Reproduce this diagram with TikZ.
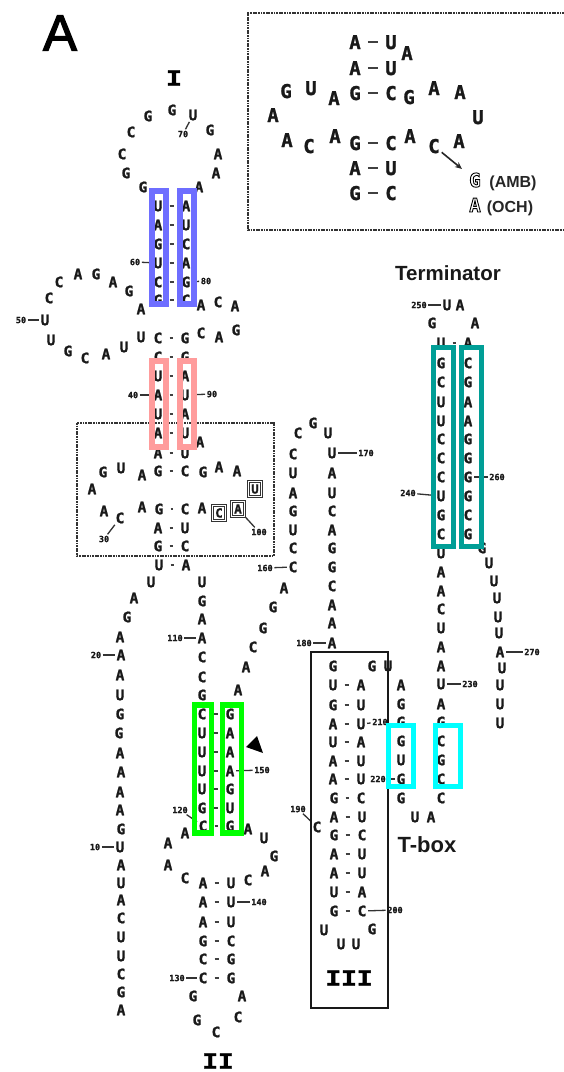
\documentclass[tikz,border=0pt]{standalone}
\usepackage{fontspec}
\setmainfont{Liberation Sans}
\newfontfamily\ltrfont{DejaVu Sans Mono}[BoldFeatures={FakeBold=1.2}]
\newfontfamily\outlinefont{DejaVu Sans Mono}
\newfontfamily\romfont{Liberation Mono}[BoldFeatures={FakeBold=1.2}]
\usetikzlibrary{arrows.meta}
\newcounter{nn}
\tikzset{
  nt/.style={inner sep=1pt,font=\ltrfont\bfseries\fontsize{14.5}{14.5}\selectfont,text height=10.5pt,text depth=0pt,text=black!90},
  ntbig/.style={inner sep=1pt,font=\ltrfont\bfseries\fontsize{19}{19}\selectfont,text height=14pt,text depth=0pt,text=black!90},
  ntout/.style={inner sep=1pt,font=\outlinefont\bfseries\fontsize{19}{19}\selectfont,text height=14pt,text depth=0pt},
  ntbox/.style={nt,draw=black!80,double=white,double distance=1.2pt,line width=1.1pt,minimum width=12.5pt,minimum height=14.5pt,inner sep=0pt,font=\ltrfont\bfseries\fontsize{12.5}{12.5}\selectfont,text height=9pt},
  numlab/.style={inner sep=1pt,font=\ltrfont\bfseries\fontsize{8.5}{8.5}\selectfont,text height=6.2pt,text depth=0pt,text=black!90},
  pairline/.style={line width=1.3pt,black!75,shorten >=6pt,shorten <=6pt},
  tick/.style={line width=1.3pt,black!80,shorten >=0.5pt,shorten <=0.5pt},
  band/.style={line width=5.5pt,line cap=butt,line join=miter},
  bandblue/.style={band,draw={rgb,255:red,110;green,110;blue,255}},
  bandpink/.style={band,draw={rgb,255:red,255;green,156;blue,156}},
  bandgreen/.style={band,draw={rgb,255:red,0;green,255;blue,0}},
  bandteal/.style={band,draw={rgb,255:red,0;green,158;blue,150}},
  bandcyan/.style={band,draw={rgb,255:red,0;green,255;blue,255}},
  dotframe/.style={line width=1.9pt,black!80,dash pattern=on 1.8pt off 0.8pt},
  roman/.style={inner sep=0pt,font=\romfont\bfseries\fontsize{23}{23}\selectfont},
  headline/.style={inner sep=0pt,font=\bfseries\fontsize{20.5}{20.5}\selectfont,text=black!90},
  smallhead/.style={inner sep=0pt,font=\bfseries\fontsize{16}{16}\selectfont,text=black!85},
}
% letter node: numbered automatically
\newcommand\ntx[4][nt]{\stepcounter{nn}\node[#1] (n\arabic{nn}) at (#2,#3) {#4};}
% base pair: y, x left, x right, left letter, right letter
\newcommand\bpair[6][nt]{%
  \ntx[#1]{#3}{#2}{#5}\edef\lastL{n\arabic{nn}}%
  \ntx[#1]{#4}{#2}{#6}\edef\lastR{n\arabic{nn}}%
  \draw[pairline] (\lastL) -- (\lastR);}
% number label joined to the letter node made last
\newcommand\numl[3]{\node[numlab] (lab\arabic{nn}) at (#1,#2) {#3};\draw[tick] (lab\arabic{nn}) -- (n\arabic{nn});}
\newcommand\hollow[1]{\special{pdf:code 1 Tr 0.9 w}#1\special{pdf:code 0 Tr}}
\newcommand\heavy[1]{\special{pdf:code 2 Tr 1.2 w}#1\special{pdf:code 0 Tr}}
\newcommand\wideI[1]{\scalebox{1.14}[1]{#1}}
\begin{document}
\begin{tikzpicture}[x=1pt,y=-1pt]
\useasboundingbox (0,0) rectangle (564,1072);
\fill[white] (0,0) rectangle (564,1072);
\node[inner sep=0pt,font=\fontsize{51}{51}\selectfont] (title) at (60,33) {\heavy{A}};
% ---- inset
\draw[dotframe] (564,13) -- (248,13) -- (248,230) -- (564,230);
\bpair[ntbig]{42}{355}{391}{A}{U}
\ntx[ntbig]{407}{53}{A}
\bpair[ntbig]{68}{355}{391}{A}{U}
\bpair[ntbig]{93}{355}{391}{G}{C}
\ntx[ntbig]{286}{91}{G}
\ntx[ntbig]{311}{88}{U}
\ntx[ntbig]{334}{98}{A}
\ntx[ntbig]{409}{97}{G}
\ntx[ntbig]{434}{88}{A}
\ntx[ntbig]{460}{92}{A}
\ntx[ntbig]{478}{117}{U}
\ntx[ntbig]{273}{115}{A}
\ntx[ntbig]{287}{140}{A}
\ntx[ntbig]{309}{146}{C}
\ntx[ntbig]{335}{136}{A}
\bpair[ntbig]{143}{355}{391}{G}{C}
\ntx[ntbig]{410}{136}{A}
\ntx[ntbig]{459}{141}{A}
\bpair[ntbig]{168}{355}{391}{A}{U}
\bpair[ntbig]{193}{355}{391}{G}{C}
\node[ntout] (ambG) at (475,180) {\hollow{G}};
\node[ntout] (ochA) at (475,205) {\hollow{A}};
\node[smallhead] (amb) at (513,183) {(AMB)};
\node[smallhead] (och) at (510,208) {(OCH)};
\node[ntbig] (insetC) at (434,146) {C};
\coordinate (arrowend) at (462,169);
\draw[line width=1.6pt,black!85,-{Stealth[length=7pt,width=6pt]},shorten <=1pt] (insetC) -- (arrowend);
% ---- stem I
\node[roman] (romI) at (174,78) {\wideI{I}};
\ntx{172}{110}{G}
\ntx{193}{115}{U}\numl{183}{134}{70}
\ntx{210}{130}{G}
\ntx{218}{154}{A}
\ntx{216}{173}{A}
\ntx{199}{187}{A}
\ntx{143}{187}{G}
\ntx{126}{173}{G}
\ntx{122}{154}{C}
\ntx{131}{132}{C}
\ntx{148}{116}{G}
\bpair{206}{158}{186}{U}{A}
\bpair{225}{158}{186}{A}{U}
\bpair{244}{158}{186}{G}{C}
\bpair{263}{158}{186}{U}{A}
\node[numlab] (lab60) at (135,262) {60};
\draw[tick] (lab60) -- (\lastL);
\node[numlab] (lab80) at (206,281) {80};
\bpair{282}{158}{186}{C}{G}
\draw[tick] (lab80) -- (\lastR);
\bpair{300}{158}{186}{G}{C}
\ntx{49}{298}{C}
\ntx{59}{282}{C}
\ntx{78}{274}{A}
\ntx{96}{274}{G}
\ntx{113}{282}{A}
\ntx{129}{291}{G}
\ntx{141}{309}{A}
\ntx{201}{305}{A}
\ntx{218}{302}{C}
\ntx{235}{306}{A}
\ntx{236}{330}{G}
\ntx{219}{337}{A}
\ntx{201}{333}{C}
\ntx{45}{320}{U}\numl{21}{320}{50}
\ntx{51}{340}{U}
\ntx{68}{351}{G}
\ntx{85}{358}{C}
\ntx{106}{354}{A}
\ntx{124}{347}{U}
\ntx{141}{337}{U}
\bpair{338}{158}{185}{C}{G}
\bpair{357}{158}{185}{C}{G}
\bpair{376}{158}{185}{U}{A}
\bpair{395}{158}{185}{A}{U}
\node[numlab] (lab40) at (133,395) {40};
\node[numlab] (lab90) at (212,394) {90};
\draw[tick] (lab90) -- (\lastR);
\draw[tick] (lab40) -- (\lastL);
\bpair{414}{158}{185}{U}{A}
\bpair{433}{158}{185}{A}{U}
\ntx{200}{442}{A}
\bpair{453}{158}{185}{A}{U}
% ---- dotted box
\draw[dotframe] (77,423) rectangle (274,556);
\ntx{103}{472}{G}
\ntx{121}{468}{U}
\ntx{142}{475}{A}
\bpair{471}{158}{185}{G}{C}
\ntx{203}{472}{G}
\ntx{219}{467}{A}
\ntx{237}{471}{A}
\ntx{92}{489}{A}
\ntx{104}{511}{A}
\ntx{120}{518}{C}\numl{104}{539}{30}
\ntx{142}{507}{A}
\bpair{509}{159}{185}{G}{C}
\ntx{202}{508}{A}
\ntx[ntbox]{219}{513}{C}
\ntx[ntbox]{238}{509}{A}\numl{259}{532}{100}
\ntx[ntbox]{255}{489}{U}
\bpair{528}{158}{185}{A}{U}
\bpair{546}{158}{185}{G}{C}
\bpair{565}{159}{186}{U}{A}
% ---- left strand
\ntx{151}{582}{U}
\ntx{134}{598}{A}
\ntx{127}{617}{G}
\ntx{120}{637}{A}
\ntx{121}{655}{A}\numl{96}{655}{20}
\ntx{120}{675}{A}
\ntx{120}{695}{U}
\ntx{120}{714}{G}
\ntx{119}{733}{G}
\ntx{120}{753}{A}
\ntx{121}{772}{A}
\ntx{120}{792}{A}
\ntx{120}{810}{A}
\ntx{121}{829}{G}
\ntx{120}{847}{U}\numl{95}{847}{10}
\ntx{121}{865}{A}
\ntx{121}{883}{U}
\ntx{121}{900}{A}
\ntx{121}{918}{C}
\ntx{121}{937}{U}
\ntx{121}{956}{U}
\ntx{121}{974}{C}
\ntx{121}{992}{G}
\ntx{121}{1010}{A}
% ---- middle strand
\ntx{202}{582}{U}
\ntx{202}{601}{G}
\ntx{202}{619}{A}
\ntx{202}{638}{A}\numl{175}{638}{110}
\ntx{202}{657}{C}
\ntx{202}{677}{C}
\ntx{202}{695}{G}
\bpair{714}{202}{230}{C}{G}
\bpair{733}{202}{230}{U}{A}
\bpair{752}{202}{230}{U}{A}
\bpair{771}{202}{230}{U}{A}\numl{262}{770}{150}
\bpair{789}{202}{230}{U}{G}
\bpair{808}{202}{230}{G}{U}
\bpair{826}{203}{230}{C}{G}
\node[numlab] (lab120) at (180,810) {120};
\draw[tick] (lab120) -- (\lastL);
\ntx{185}{833}{A}
\ntx{168}{843}{A}
\ntx{168}{865}{A}
\ntx{185}{878}{C}
\ntx{248}{829}{A}
\ntx{264}{838}{U}
\ntx{274}{856}{G}
\ntx{265}{871}{A}
\ntx{248}{880}{C}
\bpair{883}{203}{231}{A}{U}
\bpair{902}{203}{231}{A}{U}\numl{259}{902}{140}
\bpair{922}{203}{231}{A}{U}
\bpair{941}{203}{231}{G}{C}
\bpair{959}{203}{231}{C}{G}
\bpair{978}{203}{231}{C}{G}
\node[numlab] (lab130) at (177,978) {130};
\draw[tick] (lab130) -- (\lastL);
\ntx{193}{996}{G}
\ntx{242}{996}{A}
\ntx{197}{1020}{G}
\ntx{238}{1017}{C}
\ntx{216}{1032}{C}
\node[roman] (romII) at (218,1061) {\wideI{II}};
\path[fill=black] (246,747) -- (257,736) -- (263,753) -- cycle;
% ---- long arm
\ntx{238}{690}{A}
\ntx{246}{667}{A}
\ntx{253}{647}{C}
\ntx{263}{628}{G}
\ntx{273}{607}{G}
\ntx{284}{588}{A}
\ntx{293}{567}{C}\numl{265}{568}{160}
\ntx{293}{548}{C}
\ntx{293}{530}{U}
\ntx{293}{511}{G}
\ntx{293}{493}{A}
\ntx{293}{473}{U}
\ntx{293}{454}{C}
\ntx{298}{433}{C}
\ntx{313}{423}{G}
\ntx{328}{433}{U}
\ntx{332}{453}{U}\numl{366}{453}{170}
\ntx{332}{473}{A}
\ntx{332}{493}{U}
\ntx{332}{511}{C}
\ntx{332}{530}{A}
\ntx{332}{548}{G}
\ntx{332}{567}{G}
\ntx{332}{586}{C}
\ntx{332}{605}{A}
\ntx{332}{623}{A}
\ntx{332}{643}{A}\numl{304}{643}{180}
% ---- stem III
\ntx{333}{666}{G}
\ntx{372}{666}{G}
\ntx{388}{666}{U}
\bpair{685}{333}{361}{U}{A}
\bpair{705}{333}{361}{G}{U}
\bpair{724}{333}{361}{A}{U}\numl{380}{722}{210}
\bpair{742}{333}{361}{U}{A}
\bpair{761}{333}{361}{A}{U}
\bpair{779}{333}{361}{A}{U}
\bpair{798}{334}{361}{G}{C}
\bpair{817}{334}{362}{A}{U}
\bpair{835}{334}{362}{G}{C}
\ntx{317}{827}{C}\numl{298}{809}{190}
\bpair{854}{334}{362}{A}{U}
\bpair{873}{334}{362}{A}{U}
\bpair{892}{334}{362}{U}{A}
\bpair{911}{334}{362}{G}{C}\numl{395}{910}{200}
\ntx{324}{930}{U}
\ntx{372}{929}{G}
\ntx{341}{944}{U}
\ntx{356}{944}{U}
\node[roman] (romIII) at (349,978) {\wideI{III}};
\draw[line width=2pt,black!90] (311,652) rectangle (388,1008);
% ---- T-box strand
\ntx{401}{685}{A}
\ntx{401}{704}{G}
\ntx{401}{722}{G}
\ntx{401}{741}{G}
\ntx{401}{760}{U}
\ntx{401}{779}{G}\numl{378}{779}{220}
\ntx{401}{798}{G}
\ntx{415}{817}{U}
\ntx{431}{817}{A}
\ntx{441}{798}{C}
\ntx{441}{779}{C}
\ntx{441}{760}{G}
\ntx{441}{741}{C}
\ntx{441}{722}{G}
\ntx{441}{704}{A}
\ntx{441}{684}{U}\numl{470}{684}{230}
\ntx{441}{666}{A}
\ntx{441}{647}{A}
\ntx{441}{628}{U}
\ntx{441}{609}{C}
\ntx{441}{591}{A}
\ntx{441}{572}{A}
\ntx{441}{553}{U}
\node[headline,font=\bfseries\fontsize{22}{22}\selectfont] (tbox) at (427,845) {T-box};
% ---- terminator
\node[headline] (term) at (448,273) {Terminator};
\ntx{447}{305}{U}\numl{419}{305}{250}
\ntx{460}{305}{A}
\ntx{432}{323}{G}
\ntx{475}{323}{A}
\bpair{343}{441}{468}{U}{A}
\bpair{363}{441}{468}{G}{C}
\bpair{382}{441}{468}{C}{G}
\bpair{402}{441}{468}{U}{A}
\bpair{421}{441}{468}{U}{A}
\bpair{439}{441}{468}{C}{G}
\bpair{458}{441}{468}{C}{G}
\bpair{477}{441}{468}{C}{G}\numl{497}{477}{260}
\bpair{496}{441}{468}{U}{G}
\node[numlab] (lab240) at (408,493) {240};
\draw[tick] (lab240) -- (\lastL);
\bpair{515}{441}{468}{G}{C}
\bpair{534}{441}{468}{C}{G}
\ntx{482}{548}{G}
\ntx{489}{563}{U}
\ntx{494}{581}{U}
\ntx{497}{598}{U}
\ntx{498}{617}{U}
\ntx{499}{633}{U}
\ntx{500}{652}{A}\numl{532}{652}{270}
\ntx{502}{668}{U}
\ntx{500}{685}{U}
\ntx{500}{704}{U}
\ntx{500}{723}{U}
% ---- coloured bands, on top of the letters
\draw[bandblue] (152,191) rectangle (166,304);
\draw[bandblue] (180,191) rectangle (194,304);
\draw[bandpink] (152,361) rectangle (166,447);
\draw[bandpink] (180,361) rectangle (194,447);
\draw[bandgreen] (194.5,705) rectangle (211.5,833);
\draw[bandgreen] (222.5,705) rectangle (241.5,833);
\draw[bandteal] (433.5,347.5) rectangle (453.5,546.5);
\draw[bandteal] (461.5,347.5) rectangle (481.5,546.5);
\draw[bandcyan] (388.5,725.5) rectangle (413.5,786.5);
\draw[bandcyan] (435.5,725.5) rectangle (460.5,786.5);
\end{tikzpicture}
\end{document}
